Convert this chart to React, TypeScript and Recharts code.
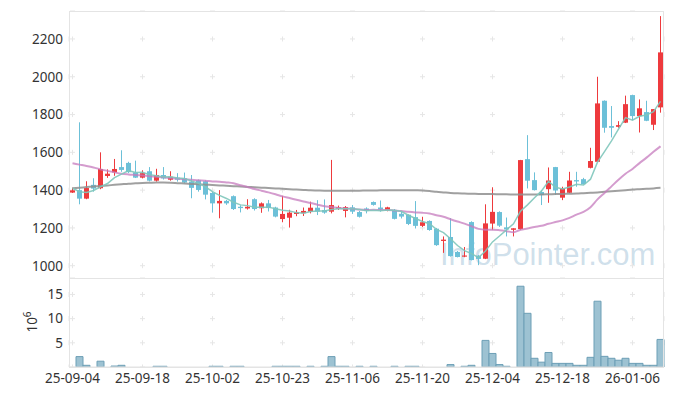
import React from 'react';
import { ComposedChart, Bar, Line, XAxis, YAxis, CartesianGrid } from 'recharts';

const dates = [
  '25-09-04','25-09-05','25-09-08','25-09-09','25-09-10','25-09-11','25-09-12','25-09-15','25-09-16','25-09-17',
  '25-09-18','25-09-19','25-09-22','25-09-23','25-09-24','25-09-25','25-09-26','25-09-29','25-09-30','25-10-01',
  '25-10-02','25-10-10','25-10-13','25-10-14','25-10-15','25-10-16','25-10-17','25-10-20','25-10-21','25-10-22',
  '25-10-23','25-10-24','25-10-27','25-10-28','25-10-29','25-10-30','25-10-31','25-11-03','25-11-04','25-11-05',
  '25-11-06','25-11-07','25-11-10','25-11-11','25-11-12','25-11-13','25-11-14','25-11-17','25-11-18','25-11-19',
  '25-11-20','25-11-21','25-11-24','25-11-25','25-11-26','25-11-27','25-11-28','25-12-01','25-12-02','25-12-03',
  '25-12-04','25-12-05','25-12-08','25-12-09','25-12-10','25-12-11','25-12-12','25-12-15','25-12-16','25-12-17',
  '25-12-18','25-12-19','25-12-22','25-12-23','25-12-24','25-12-26','25-12-29','25-12-30','26-01-02','26-01-05',
  '26-01-06','26-01-07','26-01-08','26-01-09','26-01-12'
];

const opens = [
  1387,1400,1355,1428,1410,1475,1494,1522,1544,1494,
  1466,1500,1450,1480,1455,1466,1463,1445,1452,1447,
  1385,1330,1343,1368,1312,1303,1352,1304,1330,1308,
  1247,1254,1274,1278,1286,1307,1295,1286,1302,1290,
  1309,1284,1303,1337,1308,1291,1295,1275,1270,1257,
  1211,1237,1196,1131,1152,1073,1048,1231,1053,1037,
  1223,1284,1203,1190,1194,1564,1453,1390,1405,1522,
  1360,1386,1453,1458,1518,1550,1873,1739,1735,1757,
  1903,1792,1813,1746,1838
];
const highs = [
  1413,1759,1447,1463,1600,1510,1565,1611,1550,1556,
  1505,1522,1513,1522,1500,1490,1493,1480,1456,1452,
  1390,1400,1348,1372,1320,1352,1357,1335,1348,1312,
  1370,1296,1295,1308,1339,1347,1351,1560,1318,1316,
  1321,1290,1309,1340,1345,1312,1300,1286,1272,1342,
  1259,1240,1200,1155,1252,1078,1099,1235,1056,1325,
  1415,1288,1255,1198,1560,1691,1494,1400,1520,1523,
  1418,1497,1497,1465,1624,2000,1875,1845,1765,1900,
  1905,1880,1873,1829,2321
];
const lows = [
  1385,1325,1352,1392,1405,1465,1476,1497,1490,1464,
  1462,1446,1445,1456,1450,1445,1436,1357,1392,1351,
  1281,1251,1322,1295,1282,1297,1292,1280,1287,1256,
  1230,1202,1262,1263,1277,1268,1275,1277,1295,1256,
  1274,1255,1277,1318,1286,1288,1245,1250,1215,1197,
  1205,1185,1105,1068,1048,1044,1045,1028,1003,1035,
  1190,1205,1155,1155,1190,1409,1398,1321,1333,1374,
  1347,1384,1418,1430,1515,1548,1704,1679,1730,1755,
  1771,1705,1765,1718,1810
];
const closes = [
  1399,1355,1411,1408,1512,1487,1512,1507,1495,1466,
  1490,1450,1480,1462,1471,1455,1440,1412,1401,1376,
  1330,1343,1330,1300,1305,1312,1300,1330,1305,1260,
  1274,1281,1283,1290,1307,1286,1281,1321,1309,1310,
  1286,1259,1290,1322,1297,1309,1248,1260,1221,1211,
  1230,1189,1109,1138,1051,1046,1054,1030,1036,1224,
  1285,1212,1192,1198,1559,1450,1400,1374,1451,1398,
  1409,1451,1446,1432,1554,1859,1730,1730,1744,1855,
  1792,1833,1767,1829,2129
];
// volume, millions
const volumes = [
  0,2.15,0.35,0,1.2,0,0.2,0.35,0,0,
  0,0,0.15,0.15,0,0,0,0,0,0,
  0.15,0.15,0,0.15,0.15,0,0,0,0,0.15,
  0.15,0.15,0.15,0,0.15,0,0.15,2.15,0.15,0.15,
  0,0.15,0,0.15,0,0,0.15,0,0.15,0.15,
  0,0,0,0,0.5,0,0.15,0.35,0,5.5,
  2.8,0.5,0.15,0,16.7,11.1,1.8,1.0,3.0,0.75,
  0.75,0.75,0.35,0.35,2.0,13.6,2.2,1.8,1.4,1.8,
  0.75,0.75,0.35,0.35,5.7
];
const ma5 = [
  1410,1392,1388,1398,1417,1435,1466,1485,1503,1493,
  1494,1482,1476,1470,1471,1464,1462,1448,1436,1417,
  1392,1372,1356,1336,1322,1318,1309,1309,1310,1301,
  1294,1290,1281,1278,1287,1289,1289,1297,1301,1301,
  1301,1297,1291,1293,1291,1295,1293,1287,1267,1250,
  1234,1222,1192,1175,1143,1107,1080,1064,1043,1078,
  1126,1157,1190,1222,1289,1322,1360,1396,1447,1415,
  1406,1417,1431,1427,1458,1548,1604,1661,1723,1784,
  1770,1791,1798,1815,1870
];
const ma20 = [
  1542,1535,1528,1520,1510,1502,1494,1487,1483,1480,
  1477,1474,1471,1468,1464,1461,1458,1455,1452,1450,
  1446,1445,1441,1436,1426,1417,1406,1397,1388,1378,
  1367,1358,1349,1340,1332,1323,1315,1311,1306,1303,
  1301,1297,1295,1296,1295,1295,1292,1289,1285,1282,
  1280,1276,1267,1259,1246,1234,1223,1209,1195,1191,
  1191,1188,1183,1177,1190,1197,1205,1211,1222,1231,
  1240,1253,1270,1285,1310,1351,1385,1420,1455,1487,
  1512,1543,1572,1603,1632
];
const ma120 = [
  1410,1413,1416,1419,1422,1425,1428,1431,1434,1436,
  1438,1439,1440,1440,1439,1437,1435,1433,1431,1429,
  1427,1425,1423,1421,1419,1417,1415,1413,1411,1409,
  1407,1405,1403,1401,1399,1398,1397,1397,1397,1397,
  1397,1397,1398,1398,1399,1399,1400,1400,1400,1399,
  1398,1395,1391,1388,1385,1383,1382,1381,1380,1379,
  1379,1378,1378,1377,1377,1377,1377,1377,1378,1379,
  1380,1381,1382,1384,1386,1388,1391,1394,1397,1400,
  1403,1405,1407,1409,1412
];
const xTicks = ['25-09-04','25-09-18','25-10-02','25-10-23','25-11-06','25-11-20','25-12-04','25-12-18','26-01-06'];
const priceTicks = [1000, 1200, 1400, 1600, 1800, 2000, 2200];
const volTicks = [5, 10, 15];

const data = dates.map((date, i) => ({
  date,
  open: opens[i],
  high: highs[i],
  low: lows[i],
  close: closes[i],
  vol: volumes[i],
  ma5: ma5[i],
  ma20: ma20[i],
  ma120: ma120[i],
}));

const RED = '#ee3a3d';
const BLUE = '#6cc0d8';
const GRID = '#e6e6e6';
const FONT = '"Noto Sans", "DejaVu Sans", sans-serif';
const tickStyle = { fill: '#333', fontSize: 13.5, fontFamily: FONT };

const Candle = (props: any) => {
  const { x, y, width, height, payload } = props;
  if (!payload) return null;
  const { open, close, high, low } = payload;
  const top = Math.min(y, y + height);
  const h = Math.abs(height);
  const ratio = high === low ? 0 : h / (high - low);
  const color = close >= open ? RED : BLUE;
  const bTop = top + (high - Math.max(open, close)) * ratio;
  const bBot = top + (high - Math.min(open, close)) * ratio;
  const cx = x + width / 2;
  const bw = 5;
  return (
    <g>
      <line x1={cx} x2={cx} y1={top} y2={top + h} stroke={color} strokeWidth={1} />
      <rect x={cx - bw / 2} y={bTop} width={bw} height={Math.max(1, bBot - bTop)} fill={color} />
    </g>
  );
};

const VolLabel = (props: any) => {
  const vb = props.viewBox || { x: 0, y: 278, width: 69, height: 89 };
  const cx = 37;
  const cy = vb.y + vb.height / 2 - 0.5;
  return (
    <text transform={`translate(${cx}, ${cy}) rotate(-90)`} textAnchor="middle" fill="#333" fontSize={13.5} fontFamily={FONT}>
      10<tspan dy={-6} fontSize={10}>6</tspan>
    </text>
  );
};

export default function App() {
  return (
    <div style={{ position: 'absolute', left: 0, top: 0, width: 673, height: 396, background: '#fff' }}>
      <div style={{ position: 'absolute', left: 440, top: 239, fontSize: 31, lineHeight: '31px', fontFamily: '"Liberation Sans", Arial, sans-serif', color: 'rgba(140,180,206,0.42)', pointerEvents: 'none', whiteSpace: 'nowrap' }}>
        InfoPointer.com
      </div>
      <div style={{ position: 'absolute', left: 0, top: 0 }}>
        <ComposedChart width={673} height={278} data={data} margin={{ top: 11, right: 9, bottom: 0, left: 0 }} barCategoryGap={0}>
          <CartesianGrid horizontal={true} vertical={false} stroke={GRID} strokeDasharray="5 65" strokeDashoffset={-1} />
          <CartesianGrid horizontal={false} vertical={true} stroke={GRID} strokeDasharray="5 32.79" strokeDashoffset={-25.47} />
          <XAxis dataKey="date" hide ticks={xTicks} interval={0} />
          <YAxis width={69} domain={[935, 2348]} ticks={priceTicks} allowDataOverflow axisLine={false} tickLine={false} tickSize={0} tickMargin={6} tick={tickStyle} />
          <Bar dataKey={(d: any) => [d.low, d.high]} shape={<Candle />} isAnimationActive={false} />
          <Line type="monotone" dataKey="ma120" stroke="#8f8f8f" strokeWidth={2} strokeOpacity={0.85} dot={false} isAnimationActive={false} />
          <Line type="monotone" dataKey="ma20" stroke="#c67bbd" strokeWidth={2} strokeOpacity={0.75} dot={false} isAnimationActive={false} />
          <Line type="linear" dataKey="ma5" stroke="#7fc7bb" strokeWidth={1.5} strokeOpacity={0.9} dot={false} isAnimationActive={false} />
        </ComposedChart>
      </div>
      <div style={{ position: 'absolute', left: 0, top: 278 }}>
        <ComposedChart width={673} height={118} data={data} margin={{ top: 0, right: 9, bottom: 0, left: 0 }} barCategoryGap={0}>
          <CartesianGrid horizontal={true} vertical={false} stroke={GRID} strokeDasharray="5 65" strokeDashoffset={-1} />
          <CartesianGrid horizontal={false} vertical={true} stroke={GRID} strokeDasharray="5 19.18" strokeDashoffset={-13.95} />
          <XAxis dataKey="date" ticks={xTicks} interval={0} height={29} axisLine={{ stroke: '#e2e2e2' }} tickLine={false} tickSize={0} tickMargin={6} tick={tickStyle} />
          <YAxis width={69} domain={[0, 18.4]} ticks={volTicks} allowDataOverflow axisLine={false} tickLine={false} tickSize={0} tickMargin={6} tick={tickStyle} label={<VolLabel />} />
          <Bar dataKey="vol" fill="#9dc2d2" stroke="#6d9fb6" strokeWidth={1} isAnimationActive={false} />
        </ComposedChart>
      </div>
      <div style={{ position: 'absolute', left: 69, top: 11, width: 595, height: 268, boxSizing: 'border-box', border: '1px solid #e4e4e4', pointerEvents: 'none' }} />
      <div style={{ position: 'absolute', left: 69, top: 278, width: 595, height: 90, boxSizing: 'border-box', border: '1px solid #e4e4e4', pointerEvents: 'none' }} />
    </div>
  );
}
